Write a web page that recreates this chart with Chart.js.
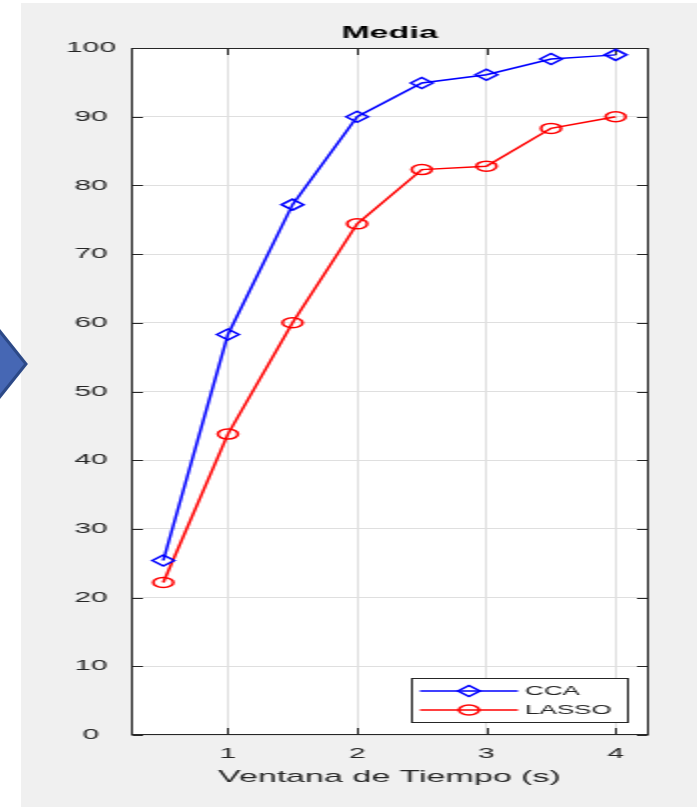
<!DOCTYPE html>
<html>
<head>
<meta charset="utf-8">
<script src="https://cdn.jsdelivr.net/npm/chart.js@4.4.1/dist/chart.umd.min.js"></script>
<style>
  html, body { margin: 0; padding: 0; background: #ffffff; width: 697px; height: 807px; overflow: hidden; position: relative; }
  /* the figure is drawn at half width and stretched horizontally */
  #panel { position: absolute; left: 21px; top: 3px; width: 338px; height: 804px; background: #f0f0f0;
           transform: scaleX(2); transform-origin: 0 0; }
  #panel canvas { display: block; }
  #arrow { position: absolute; left: 0; top: 320px; }
</style>
</head>
<body>
<div id="panel"><canvas id="chart"></canvas></div>
<svg id="arrow" width="30" height="90" viewBox="0 0 30 90">
  <polygon points="-6,4 26,44 -6,84" fill="#4667b4" stroke="#2c4987" stroke-width="3" stroke-linejoin="miter"/>
</svg>
<script>
// time window (s) on the x axis
const timeWindow = [0.5, 1, 1.5, 2, 2.5, 3, 3.5, 4];
// mean accuracy per method
const ccaValues   = [25.4, 58.3, 77.2, 90.0, 94.9, 96.1, 98.4, 99.0];
const lassoValues = [22.2, 43.8, 60.0, 74.4, 82.3, 82.8, 88.3, 90.0];
const seriesNames = ['CCA', 'LASSO'];
const xTickValues = [1, 2, 3, 4];
const yTickValues = [0, 10, 20, 30, 40, 50, 60, 70, 80, 90, 100];
const chartTitle = 'Media';
const xAxisTitle = 'Ventana de Tiempo (s)';

const AXIS_COLOR = '#262626';
const GRID_COLOR = '#dfdfdf';
const FONT = "'Liberation Sans', Arial, Helvetica, sans-serif";

const toPoints = (xs, ys) => xs.map((x, i) => ({ x: x, y: ys[i] }));

function drawMarker(ctx, style, x, y, r) {
  ctx.beginPath();
  if (style === 'circle') {
    ctx.arc(x, y, r, 0, Math.PI * 2);
  } else {
    ctx.moveTo(x, y - r);
    ctx.lineTo(x + r, y);
    ctx.lineTo(x, y + r);
    ctx.lineTo(x - r, y);
    ctx.closePath();
  }
  ctx.stroke();
}

// white plot background
const plotBackground = {
  id: 'plotBackground',
  beforeDraw(chart) {
    const { ctx, chartArea: a } = chart;
    ctx.save();
    ctx.fillStyle = '#ffffff';
    ctx.fillRect(a.left, a.top, a.right - a.left, a.bottom - a.top);
    ctx.restore();
  }
};

// closed axes box with inward ticks on all four sides
const axesBox = {
  id: 'axesBox',
  beforeDatasetsDraw(chart) {
    const { ctx, chartArea: a, scales } = chart;
    const L = Math.round(a.left) + 0.5, R = Math.round(a.right) - 0.5;
    const T = Math.round(a.top) + 0.5, B = Math.round(a.bottom) - 0.5;
    ctx.save();
    ctx.strokeStyle = AXIS_COLOR;
    ctx.lineWidth = 1;
    ctx.strokeRect(L, T, R - L, B - T);
    ctx.beginPath();
    scales.x.ticks.forEach(t => {
      const px = Math.round(scales.x.getPixelForValue(t.value)) + 0.5;
      ctx.moveTo(px, B); ctx.lineTo(px, B - 6.5);
      ctx.moveTo(px, T); ctx.lineTo(px, T + 6.5);
    });
    scales.y.ticks.forEach(t => {
      const py = Math.round(scales.y.getPixelForValue(t.value)) + 0.5;
      ctx.moveTo(L, py); ctx.lineTo(L + 5.5, py);
      ctx.moveTo(R, py); ctx.lineTo(R - 5.5, py);
    });
    ctx.stroke();
    ctx.restore();
  }
};

// title centred over the plot area
const plotTitle = {
  id: 'plotTitle',
  afterDraw(chart) {
    const { ctx, chartArea: a } = chart;
    ctx.save();
    ctx.font = 'bold 17px ' + FONT;
    ctx.fillStyle = '#000000';
    ctx.textAlign = 'center';
    ctx.textBaseline = 'middle';
    ctx.fillText(chartTitle, (a.left + a.right) / 2, a.top - 15);
    ctx.restore();
  }
};

// boxed legend in the lower right corner, line sample with marker
const boxedLegend = {
  id: 'boxedLegend',
  afterDatasetsDraw(chart) {
    const { ctx, chartArea: a } = chart;
    const w = 107.5, h = 44;
    const right = a.right - 11.5, bottom = a.bottom - 13;
    const left = right - w, top = bottom - h;
    ctx.save();
    ctx.fillStyle = '#ffffff';
    ctx.fillRect(left, top, w, h);
    ctx.strokeStyle = AXIS_COLOR;
    ctx.lineWidth = 1;
    ctx.strokeRect(Math.round(left) + 0.5, Math.round(top) + 0.5, Math.round(w), Math.round(h));
    chart.data.datasets.forEach((ds, i) => {
      const y = top + 13 + i * 19;
      ctx.strokeStyle = ds.borderColor;
      ctx.lineWidth = ds.borderWidth;
      ctx.beginPath();
      ctx.moveTo(left + 5, y);
      ctx.lineTo(left + 54, y);
      ctx.stroke();
      drawMarker(ctx, ds.pointStyle, left + 29.5, y, ds.pointRadius);
      ctx.fillStyle = AXIS_COLOR;
      ctx.font = '13px ' + FONT;
      ctx.textAlign = 'left';
      ctx.textBaseline = 'middle';
      ctx.fillText(ds.label, left + 57.5, y + 0.5);
    });
    ctx.restore();
  }
};

new Chart(document.getElementById('chart'), {
  type: 'line',
  data: {
    datasets: [
      {
        label: seriesNames[0],
        data: toPoints(timeWindow, ccaValues),
        borderColor: '#0000ff',
        borderWidth: 1.5,
        pointStyle: 'rectRot',
        pointRadius: 5.5,
        pointBorderWidth: 1.5,
        pointBackgroundColor: 'rgba(0,0,0,0)',
        tension: 0
      },
      {
        label: seriesNames[1],
        data: toPoints(timeWindow, lassoValues),
        borderColor: '#ff0000',
        borderWidth: 1.5,
        pointStyle: 'circle',
        pointRadius: 5,
        pointBorderWidth: 1.5,
        pointBackgroundColor: 'rgba(0,0,0,0)',
        tension: 0
      }
    ]
  },
  options: {
    responsive: true,
    maintainAspectRatio: false,
    animation: false,
    events: [],
    layout: { padding: { top: 45, right: 24.5, bottom: 0, left: 0 } },
    plugins: {
      legend: { display: false },
      title: { display: false },
      tooltip: { enabled: false }
    },
    scales: {
      x: {
        type: 'linear',
        min: 0.25,
        max: 4.25,
        afterBuildTicks: s => { s.ticks = xTickValues.map(v => ({ value: v })); },
        afterFit: s => { s.height = 72; },
        grid: { color: GRID_COLOR, lineWidth: 1, drawTicks: false },
        border: { display: false },
        ticks: {
          padding: 10,
          color: AXIS_COLOR,
          font: { family: FONT, size: 15 },
          maxRotation: 0,
          autoSkip: false,
          callback: v => String(v)
        },
        title: {
          display: true,
          text: xAxisTitle,
          color: AXIS_COLOR,
          font: { family: FONT, size: 17 },
          padding: { top: 0, bottom: 19.5 }
        }
      },
      y: {
        min: 0,
        max: 100,
        afterBuildTicks: s => { s.ticks = yTickValues.map(v => ({ value: v })); },
        afterFit: s => { s.width = 55; },
        grid: { color: GRID_COLOR, lineWidth: 1, drawTicks: false },
        border: { display: false },
        ticks: {
          padding: 7.5,
          crossAlign: 'center',
          color: AXIS_COLOR,
          font: { family: FONT, size: 15 },
          autoSkip: false,
          callback: v => String(v)
        }
      }
    }
  },
  plugins: [plotBackground, axesBox, boxedLegend, plotTitle]
});
</script>
</body>
</html>
